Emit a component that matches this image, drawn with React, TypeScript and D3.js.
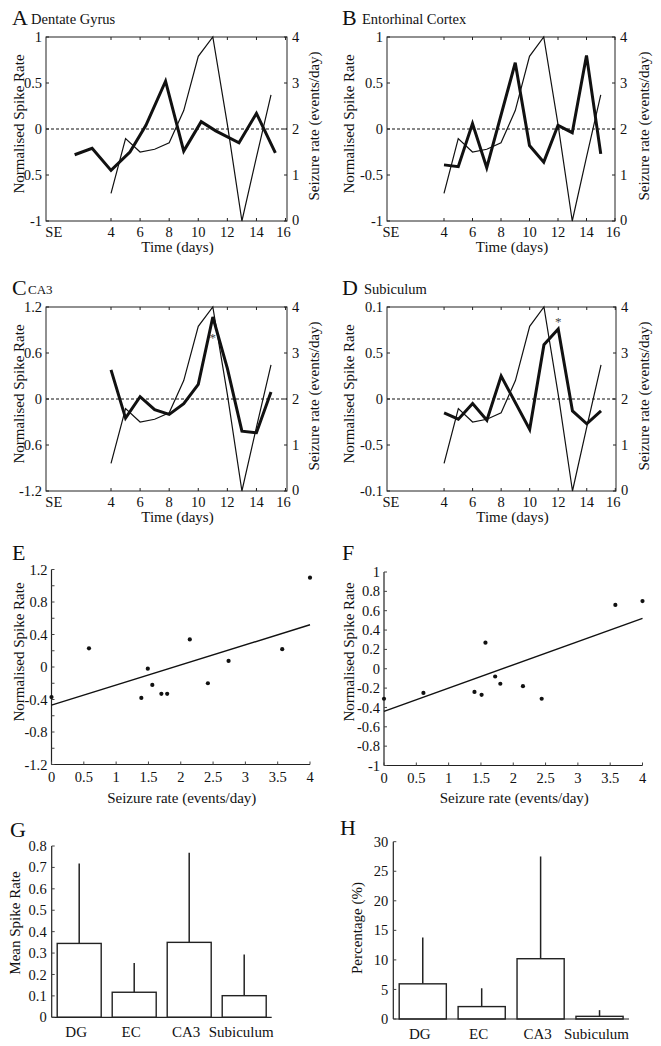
import React from 'react';
import * as d3 from 'd3';

const FONT = '"Liberation Serif", "Times New Roman", serif';

// Shared seizure-rate series (thin line, right axis)
const seizureDays = [4, 5, 6, 7, 8, 9, 10, 11, 12, 13, 14, 15];
const seizureRate = [0.6, 1.79, 1.5, 1.56, 1.7, 2.4, 3.58, 4.0, 2.1, 0, 1.39, 2.74];
const seizureTicks = [0, 1, 2, 3, 4];

const timeTicks = [4, 6, 8, 10, 12, 14, 16];

// Normalised spike rate (thick line, left axis)
const dgDays = [1.5, 2.7, 4, 5.3, 6.4, 7.75, 9, 10.2, 11.2, 12.8, 14, 15.3];
const dgRate = [-0.28, -0.21, -0.45, -0.25, 0.04, 0.52, -0.24, 0.08, -0.02, -0.15, 0.17, -0.26];

const ecDays = [4, 5, 6, 7, 9, 10, 11, 12, 13, 14, 15];
const ecRate = [-0.39, -0.41, 0.06, -0.42, 0.72, -0.18, -0.36, 0.04, -0.04, 0.8, -0.27];

const ca3Days = [4, 5, 6, 7, 8, 9, 10, 11, 12, 13, 14, 15];
const ca3Rate = [0.38, -0.25, 0.03, -0.14, -0.2, -0.06, 0.19, 1.07, 0.4, -0.42, -0.44, 0.09];

const subDays = [4, 5, 6, 7, 8, 10, 11, 12, 13, 14, 15];
const subRate = [-0.15, -0.22, -0.05, -0.23, 0.25, -0.33, 0.59, 0.76, -0.13, -0.27, -0.13];

const unitTicks = [-1, -0.5, 0, 0.5, 1];
const unitTickLabels = ['-1', '-0.5', '0', '0.5', '1'];
const ca3Ticks = [-1.2, -0.6, 0, 0.6, 1.2];
const ca3TickLabels = ['-1.2', '-0.6', '0', '0.6', '1.2'];
const subTickLabels = ['-0.1', '-0.5', '0', '0.5', '0.1'];

// Scatter E (seizure rate vs spike rate)
const eSeizure = [0, 0.58, 1.39, 1.49, 1.56, 1.7, 1.79, 2.14, 2.42, 2.74, 3.57, 4.0];
const eSpike = [-0.37, 0.23, -0.38, -0.02, -0.22, -0.33, -0.33, 0.34, -0.2, 0.075, 0.22, 1.1];
const eFit = [-0.47, 0.52]; // value at x=0 and x=4
const eMajorTicks = [-1.2, -0.8, -0.4, 0, 0.4, 0.8, 1.2];
const eMinorTicks = [-1.2, -1.0, -0.8, -0.6, -0.4, -0.2, 0, 0.2, 0.4, 0.6, 0.8, 1.0, 1.2];

// Scatter F
const fSeizure = [0, 0.61, 1.4, 1.51, 1.57, 1.72, 1.8, 2.15, 2.44, 3.58, 4.0];
const fSpike = [-0.31, -0.25, -0.24, -0.27, 0.27, -0.08, -0.155, -0.18, -0.31, 0.66, 0.7];
const fFit = [-0.44, 0.52];
const fTicks = [-1, -0.8, -0.6, -0.4, -0.2, 0, 0.2, 0.4, 0.6, 0.8, 1];

const seizureXTicks = [0, 0.5, 1, 1.5, 2, 2.5, 3, 3.5, 4];

// Bars
const regions = ['DG', 'EC', 'CA3', 'Subiculum'];
const meanRate = [0.345, 0.117, 0.35, 0.101];
const meanRateErr = [0.373, 0.137, 0.418, 0.192];
const meanRateTicks = [0, 0.1, 0.2, 0.3, 0.4, 0.5, 0.6, 0.7, 0.8];
const percent = [5.95, 2.1, 10.2, 0.45];
const percentErr = [7.85, 3.1, 17.3, 1.05];
const percentTicks = [0, 5, 10, 15, 20, 25, 30];

const fmt = (v: number) => String(Math.round(v * 100) / 100);

type TP = {
  ox: number; oy: number;
  l: number; r: number; t: number; b: number;
  xDomain: [number, number];
  yDomain: [number, number];
  yTicks: number[]; yLabels: string[];
  days: number[]; rates: number[];
  letter: string; title: string; titleSize: number; titleX: number;
  star?: [number, number];
};

function TimePanel(p: TP) {
  const x = d3.scaleLinear().domain(p.xDomain).range([p.l, p.r]);
  const y = d3.scaleLinear().domain(p.yDomain).range([p.b, p.t]);
  const y2 = d3.scaleLinear().domain([0, 4]).range([p.b, p.t]);
  const thick = d3.line<number>().x((_, i) => x(p.days[i])).y((d) => y(d))(p.rates) || '';
  const thin = d3.line<number>().x((_, i) => x(seizureDays[i])).y((d) => y2(d))(seizureRate) || '';
  const tl = 3;
  return (
    <g fontFamily={FONT} fill="#111">
      <text x={p.ox + 12} y={p.oy + 25} fontSize={22}>{p.letter}</text>
      <text x={p.ox + p.titleX} y={p.oy + 24} fontSize={p.titleSize}>{p.title}</text>
      <rect x={p.l} y={p.t} width={p.r - p.l} height={p.b - p.t} fill="none" stroke="#222" strokeWidth={1} />
      <line x1={p.l} x2={p.r} y1={y(0)} y2={y(0)} stroke="#111" strokeWidth={1.1} strokeDasharray="3 2" />
      <path d={thin} fill="none" stroke="#111" strokeWidth={1.2} />
      <path d={thick} fill="none" stroke="#111" strokeWidth={3} strokeLinejoin="miter" />
      {p.star && (
        <text x={x(p.star[0])} y={y(p.star[1]) + 6} fontSize={13} textAnchor="middle" fill="#444">*</text>
      )}
      {p.yTicks.map((v, i) => (
        <g key={'yl' + i}>
          <line x1={p.l} x2={p.l + tl} y1={y(v)} y2={y(v)} stroke="#222" />
          <text x={p.l - 4} y={y(v)} dy="0.35em" textAnchor="end" fontSize={14.5}>{p.yLabels[i]}</text>
        </g>
      ))}
      {seizureTicks.map((v) => (
        <g key={'yr' + v}>
          <line x1={p.r} x2={p.r - tl} y1={y2(v)} y2={y2(v)} stroke="#222" />
          <text x={p.r + 5} y={y2(v) - (v === 0 ? 1 : 0)} dy="0.35em" textAnchor="start" fontSize={14.5}>{v}</text>
        </g>
      ))}
      {timeTicks.map((v) => (
        <g key={'xt' + v}>
          <line x1={x(v)} x2={x(v)} y1={p.b} y2={p.b - tl} stroke="#222" />
          <line x1={x(v)} x2={x(v)} y1={p.t} y2={p.t + tl} stroke="#222" />
          <text x={x(v) - (v === 16 ? 2 : 0)} y={p.b + 16} textAnchor="middle" fontSize={14.5}>{v}</text>
        </g>
      ))}
      <text x={x(0) + (p.xDomain[0] < 0 ? 1 : 4)} y={p.b + 16} textAnchor="middle" fontSize={14.5}>SE</text>
      <text x={(p.l + p.r) / 2 + 11} y={p.b + 31} textAnchor="middle" fontSize={15}>Time (days)</text>
      <text transform={`translate(${p.ox + 19},${(p.t + p.b) / 2 - 5}) rotate(-90)`} textAnchor="middle" dy="0.35em" fontSize={15}>Normalised Spike Rate</text>
      <text transform={`translate(${p.ox + 314},${(p.t + p.b) / 2 - 3}) rotate(-90)`} textAnchor="middle" dy="0.35em" fontSize={15}>Seizure rate (events/day)</text>
    </g>
  );
}

type SP = {
  ox: number; oy: number;
  l: number; r: number; t: number; b: number;
  yDomain: [number, number];
  majorTicks: number[]; minorTicks: number[];
  xs: number[]; ys: number[]; fit: number[];
  letter: string;
};

function ScatterPanel(p: SP) {
  const x = d3.scaleLinear().domain([0, 4]).range([p.l, p.r]);
  const y = d3.scaleLinear().domain(p.yDomain).range([p.b, p.t]);
  const fitLine = d3.line<number>().x((_, i) => x(i * 4)).y((d) => y(d))(p.fit) || '';
  return (
    <g fontFamily={FONT} fill="#111">
      <text x={p.ox + 12} y={p.oy + 20} fontSize={22}>{p.letter}</text>
      <line x1={p.l} x2={p.l} y1={p.t} y2={p.b} stroke="#222" strokeWidth={1.2} />
      <line x1={p.l} x2={p.r} y1={p.b} y2={p.b} stroke="#222" strokeWidth={1.2} />
      {p.minorTicks.map((v, i) => (
        <line key={'mt' + i} x1={p.l} x2={p.l + 3} y1={y(v)} y2={y(v)} stroke="#444" />
      ))}
      {p.majorTicks.map((v, i) => (
        <text key={'mj' + i} x={p.l - 4} y={y(v)} dy="0.35em" textAnchor="end" fontSize={14.5}>{fmt(v)}</text>
      ))}
      {seizureXTicks.map((v) => (
        <g key={'sx' + v}>
          <line x1={x(v)} x2={x(v)} y1={p.b} y2={p.b - 3} stroke="#444" />
          <text x={x(v)} y={p.b + 17} textAnchor="middle" fontSize={14.5}>{fmt(v)}</text>
        </g>
      ))}
      <path d={fitLine} fill="none" stroke="#111" strokeWidth={1.4} />
      {p.xs.map((v, i) => (
        <circle key={'pt' + i} cx={x(v)} cy={y(p.ys[i])} r={2.1} fill="#111" />
      ))}
      <text x={(p.l + p.r) / 2 + 1} y={p.oy + 263} textAnchor="middle" fontSize={15}>Seizure rate (events/day)</text>
      <text transform={`translate(${p.ox + 19},${p.oy + 112}) rotate(-90)`} textAnchor="middle" dy="0.35em" fontSize={15}>Normalised Spike Rate</text>
    </g>
  );
}

type BP = {
  ox: number; oy: number;
  l: number; r: number; t: number; b: number;
  yDomain: [number, number];
  ticks: number[];
  means: number[]; errs: number[];
  letter: string; letterY: number; ylabel: string; ylabelX: number; ylabelY: number;
};

function BarPanel(p: BP) {
  const x = d3.scaleBand<string>().domain(regions).range([p.l, p.r]).paddingInner(0.2).paddingOuter(0.1);
  const y = d3.scaleLinear().domain(p.yDomain).range([p.b, p.t]);
  return (
    <g fontFamily={FONT} fill="#111">
      <text x={p.ox + 10} y={p.letterY} fontSize={22}>{p.letter}</text>
      {regions.map((r, i) => {
        const bx = x(r) as number;
        const cx = bx + x.bandwidth() / 2;
        return (
          <g key={r}>
            <line x1={cx} x2={cx} y1={y(p.means[i])} y2={y(p.means[i] + p.errs[i])} stroke="#222" strokeWidth={1.5} />
            <rect x={bx} y={y(p.means[i])} width={x.bandwidth()} height={y(0) - y(p.means[i])} fill="#fff" stroke="#222" strokeWidth={1.4} />
            <text x={cx - 3} y={p.b + 20} textAnchor="middle" fontSize={15}>{r}</text>
          </g>
        );
      })}
      <line x1={p.l} x2={p.l} y1={p.t} y2={p.b} stroke="#222" strokeWidth={1.2} />
      <line x1={p.l} x2={p.r} y1={p.b} y2={p.b} stroke="#222" strokeWidth={1.2} />
      {p.ticks.map((v, i) => (
        <g key={'bt' + i}>
          <line x1={p.l} x2={p.l + 3} y1={y(v)} y2={y(v)} stroke="#444" />
          <text x={p.l - 5} y={y(v)} dy="0.35em" textAnchor="end" fontSize={14.5}>{fmt(v)}</text>
        </g>
      ))}
      <text transform={`translate(${p.ylabelX},${p.ylabelY}) rotate(-90)`} textAnchor="middle" dy="0.35em" fontSize={15}>{p.ylabel}</text>
    </g>
  );
}

export default function App() {
  return (
    <svg width={661} height={1046} viewBox="0 0 661 1046" style={{ position: 'absolute', left: 0, top: 0, background: '#fff' }}>
      <rect x={0} y={0} width={661} height={1046} fill="#fff" />
      <TimePanel ox={0} oy={0} l={46} r={287} t={37} b={221} xDomain={[-0.47, 16.1]} yDomain={[-1, 1]}
        yTicks={unitTicks} yLabels={unitTickLabels} days={dgDays} rates={dgRate}
        letter="A" title="Dentate Gyrus" titleSize={14.5} titleX={31} />
      <TimePanel ox={330} oy={0} l={387} r={615} t={37} b={221} xDomain={[0, 16]} yDomain={[-1, 1]}
        yTicks={unitTicks} yLabels={unitTickLabels} days={ecDays} rates={ecRate}
        letter="B" title="Entorhinal Cortex" titleSize={14.5} titleX={32} />
      <TimePanel ox={0} oy={270} l={46} r={287} t={307} b={491} xDomain={[-0.47, 16.1]} yDomain={[-1.2, 1.2]}
        yTicks={ca3Ticks} yLabels={ca3TickLabels} days={ca3Days} rates={ca3Rate}
        letter="C" title="CA3" titleSize={13} titleX={28} star={[11, 0.82]} />
      <TimePanel ox={330} oy={270} l={387} r={616} t={307} b={491} xDomain={[0, 16.05]} yDomain={[-1, 1]}
        yTicks={unitTicks} yLabels={subTickLabels} days={subDays} rates={subRate}
        letter="D" title="Subiculum" titleSize={14.5} titleX={34} star={[12, 0.86]} />
      <ScatterPanel ox={0} oy={540} l={51.5} r={310} t={569.5} b={764.5} yDomain={[-1.2, 1.2]}
        majorTicks={eMajorTicks} minorTicks={eMinorTicks} xs={eSeizure} ys={eSpike} fit={eFit} letter="E" />
      <ScatterPanel ox={330} oy={540} l={384} r={642.5} t={572} b={765.5} yDomain={[-1, 1]}
        majorTicks={fTicks} minorTicks={fTicks} xs={fSeizure} ys={fSpike} fit={fFit} letter="F" />
      <BarPanel ox={0} oy={800} l={51.7} r={271.7} t={846} b={1017.3} yDomain={[0, 0.8]} ticks={meanRateTicks}
        means={meanRate} errs={meanRateErr} letter="G" letterY={837} ylabel="Mean Spike Rate" ylabelX={15} ylabelY={923} />
      <BarPanel ox={330} oy={800} l={393.3} r={629} t={841.7} b={1019} yDomain={[0, 30]} ticks={percentTicks}
        means={percent} errs={percentErr} letter="H" letterY={835} ylabel="Percentage (%)" ylabelX={357} ylabelY={928} />
    </svg>
  );
}
